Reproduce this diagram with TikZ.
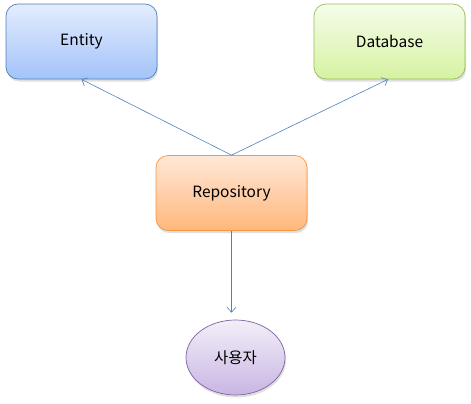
\documentclass[tikz,border=0pt]{standalone}
\usepackage{fontspec}
\setmainfont{Noto Sans CJK KR}
\usetikzlibrary{arrows.meta}
\usetikzlibrary{shapes,shadows}
\definecolor{entityline}{HTML}{4F81BD}
\definecolor{entitytop}{HTML}{E3EDFD}
\definecolor{entitybot}{HTML}{A3C3FA}
\definecolor{dbline}{HTML}{9BBB59}
\definecolor{dbtop}{HTML}{F5FDEA}
\definecolor{dbbot}{HTML}{D6F2A2}
\definecolor{repoline}{HTML}{F79646}
\definecolor{repotop}{HTML}{FFE8D8}
\definecolor{repobot}{HTML}{FFB77C}
\definecolor{userline}{HTML}{8064A2}
\definecolor{usertop}{HTML}{F3EEF9}
\definecolor{userbot}{HTML}{C8B6E3}
\tikzset{
        box/.style={align=center,inner sep=0pt,rectangle,rounded corners=12pt,
            minimum width=151pt, minimum height=75pt, line width=0.7pt,
            font=\fontsize{15.5}{18}\selectfont,
            drop shadow={shadow xshift=1pt, shadow yshift=-2.5pt, opacity=0.25}},
        % Entity box
        box_entity/.style={box, draw=entityline, top color=entitytop, bottom color=entitybot},
        % Database box
        box_db/.style={box, draw=dbline, top color=dbtop, bottom color=dbbot},
        % Repository box
        box_repo/.style={box, draw=repoline, top color=repotop, bottom color=repobot},
        % User ellipse
        node_user/.style={box, ellipse, rounded corners=0pt, minimum width=99pt, minimum height=75pt,
            draw=userline, top color=usertop, bottom color=userbot},
        link/.style={-{Straight Barb[length=5pt,width=9pt]}, line width=0.6pt, draw=entityline}
}
\begin{document}
\begin{tikzpicture}[x=1pt,y=-1pt]
            \useasboundingbox (0,0) rectangle (471,404);
            \node[box_entity] (entity) at (81.5,41.5) {Entity};
            \node[box_db] (database) at (389.5,41.5) {Database};
            \node[box_repo] (repo) at (231.5,193) {Repository};
            \node[node_user] (user) at (235.5,357.5) {사용자};
            \draw[link] (repo.north) -- (entity.south);
            \draw[link] (repo.north) -- ([xshift=-1.5pt]database.south);
            \draw[link, shorten >=7pt] (repo.south) -- (repo.south |- user.north);
\end{tikzpicture}
\end{document}
